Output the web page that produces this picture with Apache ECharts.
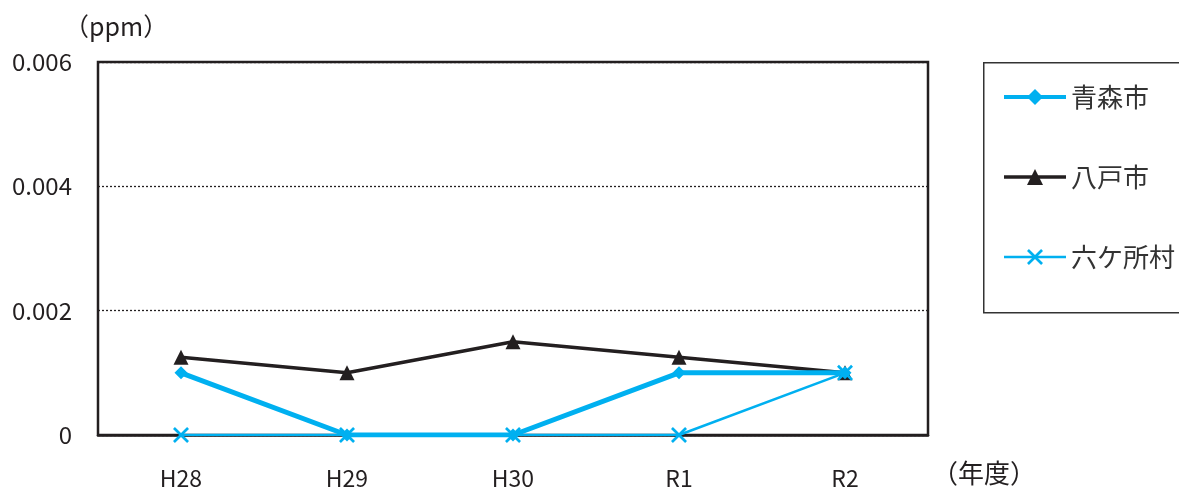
<!DOCTYPE html>
<html>
<head>
<meta charset="utf-8">
<script src="https://cdn.jsdelivr.net/npm/echarts@6/dist/echarts.min.js"></script>
<style>
  html, body { margin: 0; padding: 0; background: #fff; }
  #chart { width: 1179px; height: 490px; }
</style>
</head>
<body>
<div id="chart"></div>
<script>
// Fiscal years along the x axis
const years = ['H28', 'H29', 'H30', 'R1', 'R2'];

// Annual mean concentration (ppm) for each monitoring site
const aomori = [0.001, 0, 0, 0.001, 0.001];
const hachinohe = [0.00125, 0.001, 0.0015, 0.00125, 0.001];
const rokkasho = [0, 0, 0, 0, 0.001];

const seriesNames = ['青森市', '八戸市', '六ケ所村'];

const FONT = '"Noto Sans CJK JP", "Noto Sans", sans-serif';
const BLUE = '#00b0f0';
const DARK = '#231f20';

// Cross marker drawn as a filled outline
const CROSS = 'path://M0,1.2L1.2,0L5,3.8L8.8,0L10,1.2L6.2,5L10,8.8L8.8,10L5,6.2L1.2,10L0,8.8L3.8,5Z';

const chart = echarts.init(document.getElementById('chart'));

chart.setOption({
  animation: false,
  textStyle: { fontFamily: FONT },
  grid: {
    left: 98, right: 251, top: 62, bottom: 55,
    show: true, borderColor: DARK, borderWidth: 2.5, backgroundColor: '#fff'
  },
  graphic: [
    {
      type: 'rect', left: 983, top: 62, z: 0,
      shape: { width: 210, height: 250 },
      style: { fill: '#fff', stroke: '#333', lineWidth: 1.5 }
    },
    {
      type: 'text', left: 64, top: 14,
      style: { text: '（ppm）', font: '25px ' + FONT, fill: DARK }
    },
    {
      type: 'text', left: 932, top: 460,
      style: { text: '（年度）', font: '26px ' + FONT, fill: DARK }
    }
  ],
  legend: {
    orient: 'vertical',
    left: 997, top: 79,
    itemWidth: 62, itemHeight: 20,
    itemGap: 54,
    data: [
      { name: seriesNames[0], lineStyle: { width: 4 } },
      { name: seriesNames[1], lineStyle: { width: 3.5 } },
      { name: seriesNames[2], lineStyle: { width: 2.5 } }
    ],
    textStyle: { fontSize: 26, color: '#333', fontFamily: FONT }
  },
  xAxis: {
    type: 'category',
    data: years,
    boundaryGap: true,
    axisTick: { show: false },
    axisLine: { lineStyle: { color: DARK, width: 2.5 } },
    axisLabel: { fontSize: 23, color: DARK, margin: 32, fontFamily: FONT }
  },
  yAxis: {
    type: 'value',
    min: 0, max: 0.006, interval: 0.002,
    axisLine: { show: false },
    axisTick: { show: false },
    axisLabel: {
      fontSize: 24, color: DARK, margin: 26, fontFamily: FONT,
      formatter: v => (v === 0 ? '0' : v.toFixed(3))
    },
    splitLine: { lineStyle: { color: DARK, type: [2, 2], width: 1.3 } }
  },
  series: [
    {
      name: seriesNames[0], type: 'line', data: aomori, z: 3,
      symbol: 'diamond', symbolSize: 13, showAllSymbol: true,
      itemStyle: { color: BLUE },
      lineStyle: { color: BLUE, width: 5 }
    },
    {
      name: seriesNames[1], type: 'line', data: hachinohe, z: 2,
      symbol: 'triangle', symbolSize: 15,
      itemStyle: { color: DARK },
      lineStyle: { color: DARK, width: 3.5 }
    },
    {
      name: seriesNames[2], type: 'line', data: rokkasho, z: 4,
      symbol: CROSS, symbolSize: 16,
      itemStyle: { color: BLUE },
      lineStyle: { color: BLUE, width: 2.5 }
    }
  ]
});
</script>
</body>
</html>
